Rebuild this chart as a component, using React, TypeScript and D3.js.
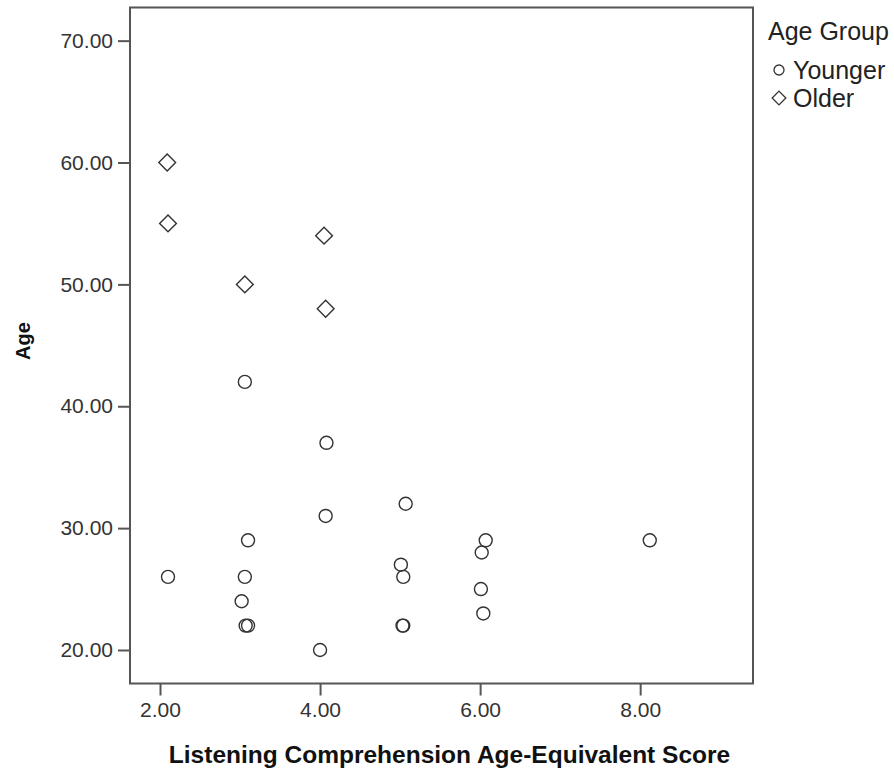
import React, { useEffect, useRef } from 'react';
import * as d3 from 'd3';

// Younger group (circles)
const youngerScore = [2.1, 3.02, 3.06, 3.1, 3.07, 3.1, 3.06, 4.0, 4.07, 4.08, 5.07, 5.01, 5.04, 5.03, 5.04, 6.07, 6.02, 6.01, 6.04, 8.12];
const youngerAge = [26, 24, 26, 29, 22, 22, 42, 20, 31, 37, 32, 27, 26, 22, 22, 29, 28, 25, 23, 29];

// Older group (diamonds)
const olderScore = [2.09, 2.1, 3.06, 4.05, 4.07];
const olderAge = [60, 55, 50, 54, 48];

const xTicks = [2, 4, 6, 8];
const yTicks = [20, 30, 40, 50, 60, 70];
const legendLabels = ['Younger', 'Older'];

const FONT = '"Liberation Sans", Arial, sans-serif';

const App = () => {
  const ref = useRef<SVGSVGElement | null>(null);

  useEffect(() => {
    const width = 894;
    const height = 773;
    const left = 130, right = 753, top = 7.5, bottom = 683.5;

    const svg = d3.select(ref.current);
    svg.selectAll('*').remove();
    svg.attr('width', width).attr('height', height);

    const x = d3.scaleLinear().domain([1.625, 9.41]).range([left, right]);
    const y = d3.scaleLinear().domain([17.25, 72.72]).range([bottom, top]);

    // y axis
    const yAxis = svg.append('g')
      .attr('transform', `translate(${left},0)`)
      .call(d3.axisLeft(y).tickValues(yTicks).tickFormat(d3.format('.2f')).tickSize(12).tickPadding(5));
    yAxis.select('.domain').remove();
    yAxis.selectAll('line').attr('stroke', '#555').attr('stroke-width', 2);
    yAxis.selectAll('text').attr('font-family', FONT).attr('font-size', 21).attr('fill', '#333');

    // x axis
    const xAxis = svg.append('g')
      .attr('transform', `translate(0,${bottom})`)
      .call(d3.axisBottom(x).tickValues(xTicks).tickFormat(d3.format('.2f')).tickSize(12).tickPadding(7));
    xAxis.select('.domain').remove();
    xAxis.selectAll('line').attr('stroke', '#555').attr('stroke-width', 2);
    xAxis.selectAll('text').attr('font-family', FONT).attr('font-size', 21).attr('fill', '#333');

    // frame
    svg.append('rect')
      .attr('x', left).attr('y', top)
      .attr('width', right - left).attr('height', bottom - top)
      .attr('fill', 'none').attr('stroke', '#555').attr('stroke-width', 2);

    // younger points
    svg.append('g')
      .selectAll('circle')
      .data(youngerScore.map((s, i) => [s, youngerAge[i]]))
      .enter()
      .append('circle')
      .attr('cx', d => x(d[0]))
      .attr('cy', d => y(d[1]))
      .attr('r', 6.5)
      .attr('fill', 'none')
      .attr('stroke', '#333')
      .attr('stroke-width', 1.4);

    // older points
    const diamond = d3.symbol().type(d3.symbolDiamond2).size(180);
    svg.append('g')
      .selectAll('path')
      .data(olderScore.map((s, i) => [s, olderAge[i]]))
      .enter()
      .append('path')
      .attr('d', diamond)
      .attr('transform', d => `translate(${x(d[0])},${y(d[1])})`)
      .attr('fill', 'none')
      .attr('stroke', '#333')
      .attr('stroke-width', 1.4);

    // axis titles
    svg.append('text')
      .attr('x', (left + right) / 2 + 8)
      .attr('y', 763)
      .attr('text-anchor', 'middle')
      .attr('font-family', FONT)
      .attr('font-weight', 'bold')
      .attr('font-size', 24.5)
      .attr('fill', '#111')
      .text('Listening Comprehension Age-Equivalent Score');

    svg.append('text')
      .attr('transform', `translate(30,341) rotate(-90)`)
      .attr('text-anchor', 'middle')
      .attr('font-family', FONT)
      .attr('font-weight', 'bold')
      .attr('font-size', 20)
      .attr('fill', '#111')
      .text('Age');

    // legend
    const legend = svg.append('g').attr('font-family', FONT).attr('fill', '#222');
    legend.append('text').attr('x', 768).attr('y', 40).attr('font-size', 25).text('Age Group');
    legend.append('circle')
      .attr('cx', 779).attr('cy', 70).attr('r', 5)
      .attr('fill', 'none').attr('stroke', '#333').attr('stroke-width', 1.3);
    legend.append('path')
      .attr('d', d3.symbol().type(d3.symbolDiamond2).size(120)())
      .attr('transform', 'translate(779,98)')
      .attr('fill', 'none').attr('stroke', '#333').attr('stroke-width', 1.3);
    legendLabels.forEach((label, i) => {
      legend.append('text')
        .attr('x', 793).attr('y', 79 + i * 28)
        .attr('font-size', 25)
        .text(label);
    });
  }, []);

  return (
    <svg ref={ref} style={{ position: 'absolute', left: 0, top: 0, background: '#fff' }} />
  );
};

export default App;
